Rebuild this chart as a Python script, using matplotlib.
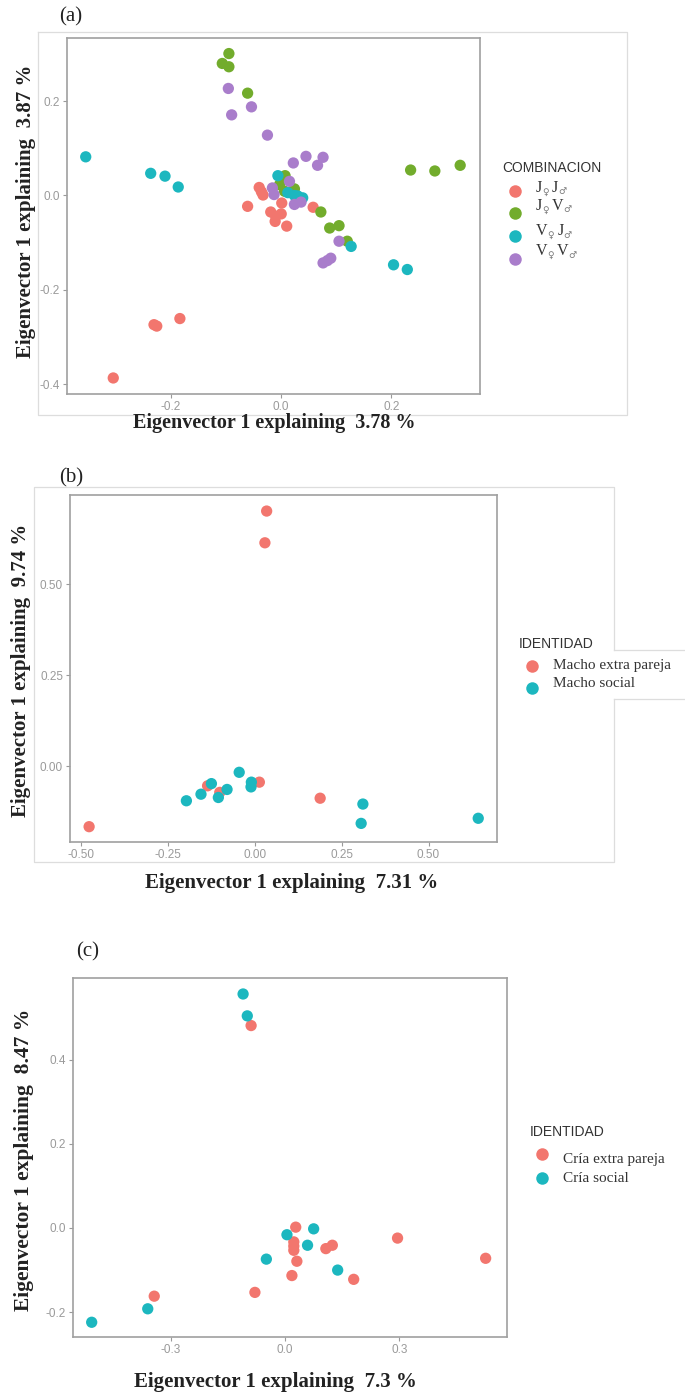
import matplotlib
matplotlib.use("Agg")
import matplotlib.pyplot as plt
from matplotlib.lines import Line2D

W, H = 685, 1395

# ---- data: panel (a)  COMBINACION
a_jj_x = [-0.305, -0.231, -0.226, -0.184, -0.061, -0.040, -0.036, -0.033, 0.001, -0.019, -0.010, 0.000, -0.011, 0.010, 0.058]
a_jj_y = [-0.387, -0.274, -0.277, -0.261, -0.023, 0.017, 0.008, 0.001, -0.016, -0.035, -0.044, -0.039, -0.055, -0.065, -0.025]
a_jv_x = [-0.107, -0.095, -0.095, -0.061, 0.235, 0.279, 0.325, 0.007, -0.003, 0.024, 0.006, 0.072, 0.088, 0.105, 0.120]
a_jv_y = [0.280, 0.301, 0.273, 0.217, 0.054, 0.052, 0.064, 0.042, 0.023, 0.014, 0.009, -0.035, -0.069, -0.064, -0.097]
a_vj_x = [-0.355, -0.237, -0.211, -0.187, -0.006, 0.012, 0.024, 0.039, 0.030, 0.127, 0.204, 0.229]
a_vj_y = [0.082, 0.047, 0.041, 0.018, 0.042, 0.006, 0.000, -0.005, -0.001, -0.108, -0.147, -0.157]
a_vv_x = [-0.096, -0.054, -0.090, -0.025, 0.022, 0.045, 0.076, 0.066, -0.016, -0.013, 0.015, 0.024, 0.036, 0.105, 0.076, 0.084, 0.090]
a_vv_y = [0.227, 0.188, 0.171, 0.128, 0.069, 0.083, 0.081, 0.064, 0.016, 0.002, 0.030, -0.019, -0.014, -0.097, -0.143, -0.138, -0.133]
a_groups = [("J", "J"), ("J", "V"), ("V", "J"), ("V", "V")]

# ---- data: panel (b)  IDENTIDAD (machos)
b_ep_x = [0.034, 0.029, -0.136, -0.101, 0.013, 0.188, -0.477]
b_ep_y = [0.700, 0.613, -0.053, -0.071, -0.043, -0.087, -0.165]
b_so_x = [-0.045, -0.125, -0.155, -0.197, -0.080, -0.105, -0.010, -0.011, 0.311, 0.306, 0.643]
b_so_y = [-0.016, -0.047, -0.076, -0.094, -0.063, -0.085, -0.043, -0.056, -0.103, -0.156, -0.142]
b_labels = ["Macho extra pareja", "Macho social"]

# ---- data: panel (c)  IDENTIDAD (crías)
c_ep_x = [-0.089, 0.028, 0.023, 0.023, 0.023, 0.031, 0.018, 0.107, 0.124, 0.295, 0.526, 0.180, -0.079, -0.343]
c_ep_y = [0.481, 0.002, -0.033, -0.043, -0.053, -0.079, -0.113, -0.049, -0.041, -0.024, -0.072, -0.122, -0.153, -0.162]
c_so_x = [-0.110, -0.099, 0.005, 0.075, 0.059, -0.049, 0.138, -0.360, -0.507]
c_so_y = [0.556, 0.504, -0.016, -0.002, -0.041, -0.074, -0.100, -0.192, -0.224]
c_labels = ["Cría extra pareja", "Cría social"]

col4 = ["#F2766E", "#72AC2C", "#1CB7BF", "#A97DCB"]
col2 = ["#F2766E", "#1CB7BF"]

SERIF = "Liberation Serif"
SANS = "Liberation Sans"
TICK_C = "#9a9a9a"
BOX_C = "#a0a0a0"
DOT = 66

fig = plt.figure(figsize=(W / 100, H / 100), dpi=100)


def fx(x):
    return x / W


def fy(y):
    return 1 - y / H


def panel(x0, x1, y0, y1, xlim, ylim, xticks, yticks, xfmt, yfmt):
    ax = fig.add_axes([fx(x0), fy(y1), (x1 - x0) / W, (y1 - y0) / H])
    ax.set_xlim(xlim)
    ax.set_ylim(ylim)
    ax.set_xticks(xticks)
    ax.set_yticks(yticks)
    ax.set_xticklabels([xfmt % v for v in xticks])
    ax.set_yticklabels([yfmt % v for v in yticks])
    for s in ax.spines.values():
        s.set_color(BOX_C)
        s.set_linewidth(1.2)
    ax.tick_params(colors=TICK_C, length=3, width=0.8, labelsize=8.5, pad=2)
    for t in ax.get_xticklabels() + ax.get_yticklabels():
        t.set_fontfamily(SANS)
    return ax


def frame(xs, ys):
    fig.add_artist(Line2D([fx(v) for v in xs], [fy(v) for v in ys], color="#dddddd", lw=0.9))


def title_texts(tag, tag_xy, ylab, ylab_xy, ysize, xlab, xlab_xy, xsize):
    fig.text(fx(tag_xy[0]), fy(tag_xy[1]), tag, family=SERIF, fontsize=15, ha="center", va="center", color="#222222")
    fig.text(fx(ylab_xy[0]), fy(ylab_xy[1]), ylab, family=SERIF, fontweight="bold", fontsize=ysize,
             rotation=90, ha="center", va="center", color="#222222")
    fig.text(fx(xlab_xy[0]), fy(xlab_xy[1]), xlab, family=SERIF, fontweight="bold", fontsize=xsize,
             ha="center", va="center", color="#222222")


# ================= panel (a)
frame([38, 627, 627, 38, 38], [32, 32, 415, 415, 32])
ax = panel(67, 480, 38, 394, (-0.389, 0.361), (-0.421, 0.334),
           [-0.2, 0.0, 0.2], [-0.4, -0.2, 0.0, 0.2], "%.1f", "%.1f")
for xs, ys, c in zip([a_jj_x, a_jv_x, a_vj_x, a_vv_x], [a_jj_y, a_jv_y, a_vj_y, a_vv_y], col4):
    ax.scatter(xs, ys, s=DOT, color=c, edgecolors="none", zorder=3)
title_texts("(a)", (71, 17), "Eigenvector 1 explaining  3.87 %", (26, 211), 15,
            "Eigenvector 1 explaining  3.78 %", (274, 423), 14.5)

fig.text(fx(502), fy(168), "COMBINACION", family=SANS, fontsize=10, color="#333333", va="center")
renderer = fig.canvas.get_renderer()
mark_y = [191, 213, 236, 259]
lab_y = [188, 206, 231, 251]
for (f, m), c, my, ly in zip(a_groups, col4, mark_y, lab_y):
    fig.add_artist(Line2D([fx(515)], [fy(my)], marker="o", ms=9, color=c, mec="none", ls="none"))
    xcur = 536
    for letter, sym in [(f, "\u2640"), (m, "\u2642")]:
        t = fig.text(fx(xcur), fy(ly), letter, family=SERIF, fontsize=11.5, color="#333333", va="center")
        xcur += t.get_window_extent(renderer).width
        t2 = fig.text(fx(xcur), fy(ly + 4), sym, family="DejaVu Sans", fontsize=6.5, color="#777777", va="center")
        xcur += t2.get_window_extent(renderer).width + 3

# ================= panel (b)
# outer frame, with the legend sticking out on the right
frame([614, 614, 34, 34, 614, 614], [650, 487, 487, 862, 862, 699])
frame([614, 685], [650, 650])
frame([614, 685], [699, 699])
ax = panel(70, 497, 495, 842, (-0.532, 0.697), (-0.207, 0.744),
           [-0.5, -0.25, 0.0, 0.25, 0.5], [0.0, 0.25, 0.5], "%.2f", "%.2f")
for xs, ys, c in zip([b_ep_x, b_so_x], [b_ep_y, b_so_y], col2):
    ax.scatter(xs, ys, s=DOT, color=c, edgecolors="none", zorder=3)
title_texts("(b)", (71, 478), "Eigenvector 1 explaining  9.74 %", (21, 670), 15,
            "Eigenvector 1 explaining  7.31 %", (292, 883), 15)
fig.text(fx(519), fy(644), "IDENTIDAD", family=SANS, fontsize=10, color="#333333", va="center")
for lab, c, my, ly in zip(b_labels, col2, [666, 688], [666, 684]):
    fig.add_artist(Line2D([fx(532)], [fy(my)], marker="o", ms=9, color=c, mec="none", ls="none"))
    fig.text(fx(553), fy(ly), lab, family=SERIF, fontsize=11, color="#333333", va="center")

# ================= panel (c)
ax = panel(73, 507, 978, 1337, (-0.556, 0.582), (-0.259, 0.594),
           [-0.3, 0.0, 0.3], [-0.2, 0.0, 0.2, 0.4], "%.1f", "%.1f")
for xs, ys, c in zip([c_ep_x, c_so_x], [c_ep_y, c_so_y], col2):
    ax.scatter(xs, ys, s=DOT, color=c, edgecolors="none", zorder=3)
title_texts("(c)", (88, 952), "Eigenvector 1 explaining  8.47 %", (24, 1160), 15.5,
            "Eigenvector 1 explaining  7.3 %", (275, 1382), 15)
fig.text(fx(530), fy(1132), "IDENTIDAD", family=SANS, fontsize=10, color="#333333", va="center")
for lab, c, my, ly in zip(c_labels, col2, [1154, 1178], [1159, 1178]):
    fig.add_artist(Line2D([fx(542)], [fy(my)], marker="o", ms=9, color=c, mec="none", ls="none"))
    fig.text(fx(563), fy(ly), lab, family=SERIF, fontsize=11, color="#333333", va="center")

fig.savefig("out.png", dpi=100)
